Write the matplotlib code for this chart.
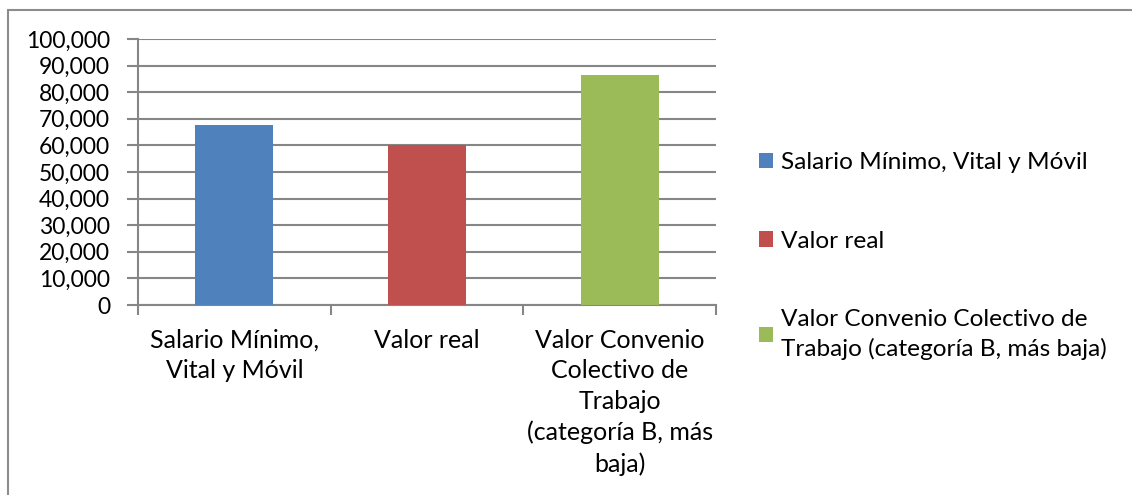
import matplotlib
matplotlib.use("Agg")
import matplotlib.pyplot as plt
from matplotlib.patches import Patch, Rectangle

plt.rcParams['font.family'] = ['Lato', 'DejaVu Sans']

categories = ["Salario Mínimo, Vital y Móvil", "Valor real",
              "Valor Convenio Colectivo de Trabajo (categoría B, más baja)"]
tick_labels = ["Salario Mínimo,\nVital y Móvil", "Valor real",
               "Valor Convenio\nColectivo de\nTrabajo\n(categoría B, más\nbaja)"]
legend_labels = ["Salario Mínimo, Vital y Móvil", "Valor real",
                 "Valor Convenio Colectivo de\nTrabajo (categoría B, más baja)"]
values = [67700, 60000, 86500]
colors = ["#4f81bd", "#c0504d", "#9bbb59"]
y_ticks = [0, 10000, 20000, 30000, 40000, 50000, 60000, 70000, 80000, 90000, 100000]

W, H = 1132, 495
fig = plt.figure(figsize=(W / 100, H / 100), dpi=100)
ax = fig.add_axes([138 / W, 1 - 305 / H, (716 - 138) / W, (305 - 39) / H])

grid_c = "#868686"
x = list(range(len(values)))
ax.bar(x, values, width=0.405, color=colors, zorder=3)
ax.set_xlim(-0.5, 2.5)
ax.set_ylim(0, 100000)
ax.set_yticks(y_ticks)
ax.set_yticklabels([f"{v:,}" for v in y_ticks], fontsize=16.5)
ax.yaxis.grid(True, color=grid_c, linewidth=1.5, zorder=0)
ax.set_axisbelow(True)

ax.set_xticks([-0.5, 0.5, 1.5, 2.5])
ax.set_xticklabels([])
ax.set_xticks(x, minor=True)
ax.set_xticklabels(tick_labels, minor=True, fontsize=18, linespacing=1.4, va='top')
ax.tick_params(axis='x', which='minor', length=0, pad=17)
ax.tick_params(axis='x', which='major', length=7, width=1.5, color=grid_c, direction='out')
ax.tick_params(axis='y', length=8, width=1.5, color=grid_c, pad=12)

for s in ['top', 'right']:
    ax.spines[s].set_visible(False)
for s in ['left', 'bottom']:
    ax.spines[s].set_color(grid_c)
    ax.spines[s].set_linewidth(1.5)

handles = [Patch(facecolor=c, edgecolor='none') for c in colors]
leg = fig.legend(handles, legend_labels, loc='center left',
                 bbox_to_anchor=(759 / W, 1 - 256 / H), frameon=False,
                 fontsize=17.6, handlelength=0.58, handleheight=0.58,
                 handletextpad=0.3, labelspacing=2.35, borderpad=0,
                 borderaxespad=0)
for t in leg.get_texts():
    t.set_linespacing(1.42)

# outer chart frame (cropped at right and bottom)
fig.add_artist(Rectangle((8 / W, -0.1), 1.2, 1 - 10 / H + 0.1,
                         transform=fig.transFigure, fill=False,
                         edgecolor="#8c8c8c", linewidth=1.5))

fig.savefig("out.png", dpi=100)
